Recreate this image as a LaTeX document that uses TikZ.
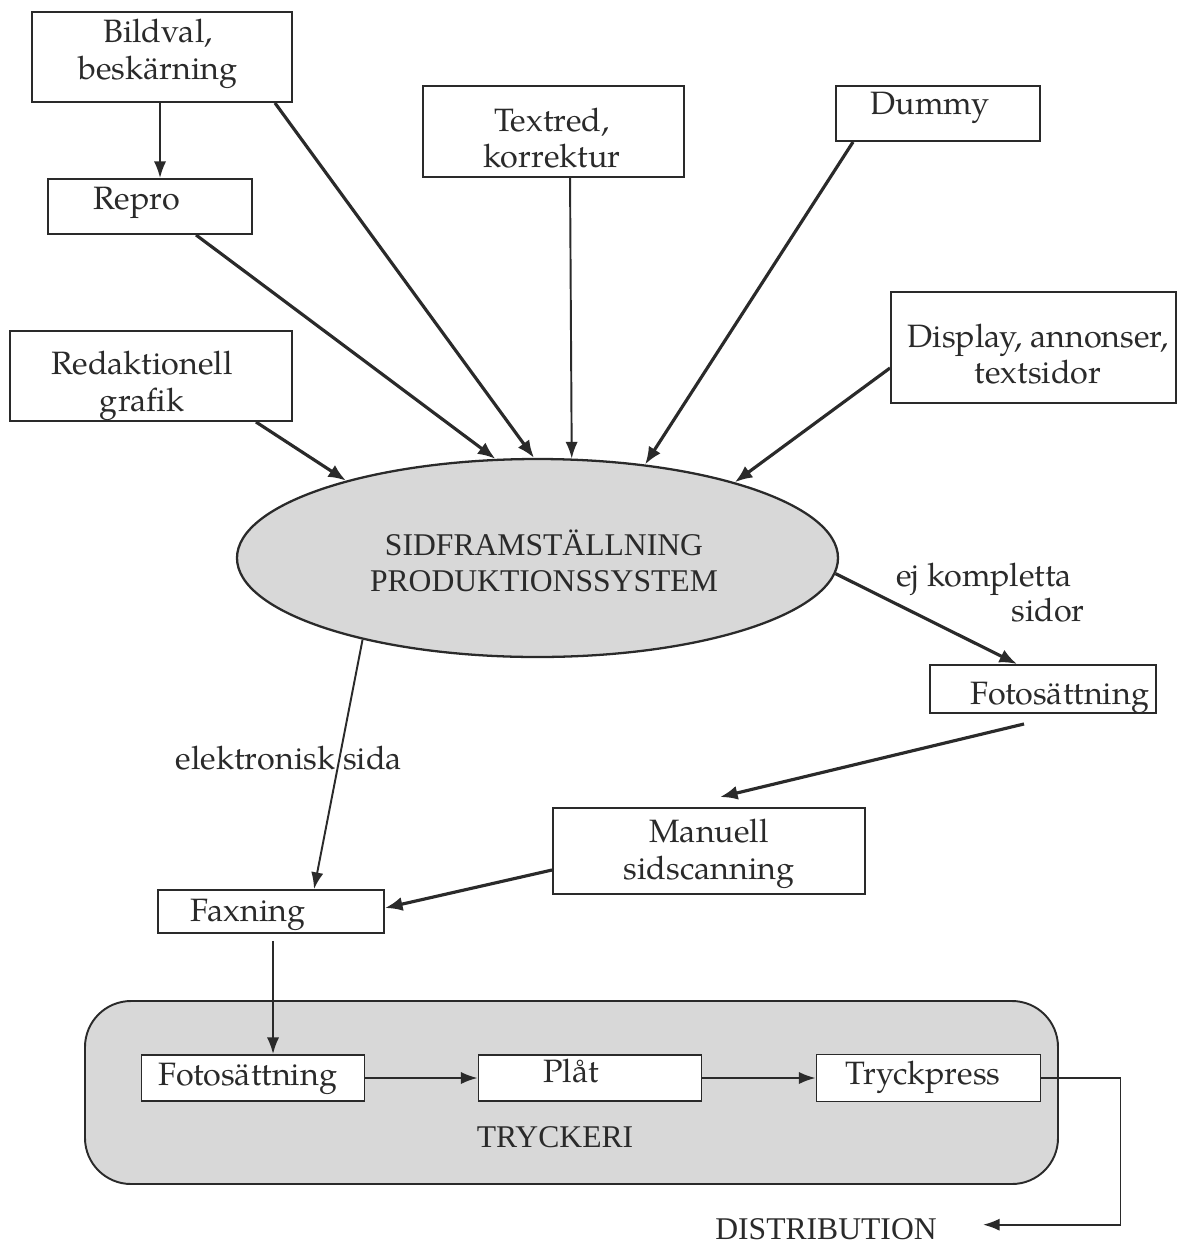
\documentclass[tikz,border=0pt]{standalone}
\usepackage{fontspec}
\setmainfont{TeX Gyre Pagella}
\newfontfamily\capsfont{Liberation Serif}
\usetikzlibrary{arrows.meta,shapes.geometric,calc}

\definecolor{ink}{HTML}{2A2A2A}
\definecolor{shade}{HTML}{D8D8D8}

\begin{document}
\begin{tikzpicture}[x=0.02cm,y=-0.02cm,
  sz/.style 2 args={minimum width=#1*0.02cm, minimum height=#2*0.02cm},
  box/.style={draw=ink, line width=1.1pt, fill=white, inner sep=0pt},
  lbl/.style={font=\fontsize{18.4}{20.8}\selectfont, text=ink, inner sep=0pt, align=center},
  caplbl/.style={font=\capsfont\fontsize{18}{20.8}\selectfont, text=ink, inner sep=0pt, align=center},
  arr/.style={draw=ink, line width=1.8pt, -{Latex[length=10pt,width=8pt]}},
  tarr/.style={draw=ink, line width=1.1pt, -{Latex[length=9.5pt,width=7pt]}}]

\useasboundingbox (0,0) rectangle (1186,1248);

% printing house frame
\node[draw=ink, line width=1.1pt, fill=shade, rounded corners=0.92cm, sz={973}{183}] (tryck) at (571.5,1092.5) {};
\node[caplbl, anchor=base] (tryL) at (555,1147) {TRYCKERI};

% central production system
\node[draw=ink, line width=1.3pt, fill=shade, ellipse, inner sep=0pt, sz={601}{198}] (sid) at (537.5,558) {};
\node[caplbl] (sidL) at (544,561) {SIDFRAMSTÄLLNING\\PRODUKTIONSSYSTEM};

% input boxes
\node[box, sz={260}{90}]  (bild)  at (162,57) {};
\node[lbl] (bildL) at (158,54) {Bildval,\\beskärning};
\node[box, sz={204}{55}]  (repro) at (150,206.5) {};
\node[lbl, anchor=base] (reproL) at (137,209) {Repro};
\node[box, sz={261}{91}]  (tx)    at (553.5,131.5) {};
\node[lbl] (txL) at (552,138) {Textred,\\korrektur};
\node[box, sz={204}{55}]  (dummy) at (938,113.5) {};
\node[lbl, anchor=base] (dummyL) at (930,114) {Dummy};
\node[box, sz={285}{111}] (disp)  at (1033.5,347.5) {};
\node[lbl] (dispL) at (1038,354) {Display, annonser,\\textsidor};
\node[box, sz={282}{90}]  (redak) at (151,376) {};
\node[lbl] (redakL) at (142,386) {Redaktionell\\grafik};

% output chain
\node[box, sz={226}{48}]  (f1)   at (1043,689) {};
\node[lbl, anchor=base] (f1L) at (1060,704) {Fotosättning};
\node[lbl, anchor=base] (ejL) at (984,586) {ej kompletta};
\node[lbl, anchor=base] (sidorL) at (1048,621) {sidor};
\node[box, sz={312}{86}]  (manu) at (709,851) {};
\node[lbl] (manuL) at (709,854) {Manuell\\sidscanning};
\node[box, sz={226}{43}]  (fax)  at (271,911.5) {};
\node[lbl, anchor=base] (faxL) at (248,921) {Faxning};
\node[lbl, anchor=base] (elL) at (289,769) {elektronisk sida};

\node[box, sz={223}{46}]  (f2)   at (253,1078) {};
\node[lbl, anchor=base] (f2L) at (248,1085) {Fotosättning};
\node[box, sz={223}{46}]  (plat) at (590,1078) {};
\node[lbl, anchor=base] (platL) at (571,1082) {Plåt};
\node[box, sz={224}{47}]  (tp)   at (928.5,1078) {};
\node[lbl, anchor=base] (tpL) at (923,1084) {Tryckpress};
\node[caplbl, anchor=base] (distL) at (826,1239) {DISTRIBUTION};
\coordinate (distIn) at ($(distL.east)+(46,-4)$);

% connectors into the production system
\draw[tarr] ($(bild.south west)+(129,0)$) -- ($(repro.north west)+(113,0)$);
\draw[arr] ($(bild.south east)+(-18,0)$) -- (sid.92.6);
\draw[arr] ($(repro.south west)+(149,0)$) -- (sid.113.4);
\draw[tarr] ($(tx.south west)+(148,0)$) -- (sid.71.2);
\draw[arr] ($(dummy.south west)+(18,0)$) -- (sid.41);
\draw[arr] ($(disp.west)+(0,20.5)$) -- (sid.21);
\draw[arr] ($(redak.south east)+(-37,0)$) -- (sid.158.9);

% connectors out of the production system
\draw[arr] (sid.-3) -- ($(f1.north west)+(88,0)$);
\draw[tarr] (sid.205.3) -- ($(fax.north west)+(157,0)$);
\draw[arr] ($(f1.south west)+(95,10)$) -- ($(manu.north west)+(168,-10)$);
\draw[arr] ($(manu.west)+(0,19)$) -- ($(fax.east)+(0,-3.5)$);
\draw[tarr] ($(fax.south west)+(116,7)$) -- ($(f2.north west)+(132.5,0)$);
\draw[tarr] (f2.east) -- (plat.west);
\draw[tarr] (plat.east) -- (tp.west);
\draw[tarr] (tp.east) -- ++(79,0) |- (distIn);
\end{tikzpicture}
\end{document}
